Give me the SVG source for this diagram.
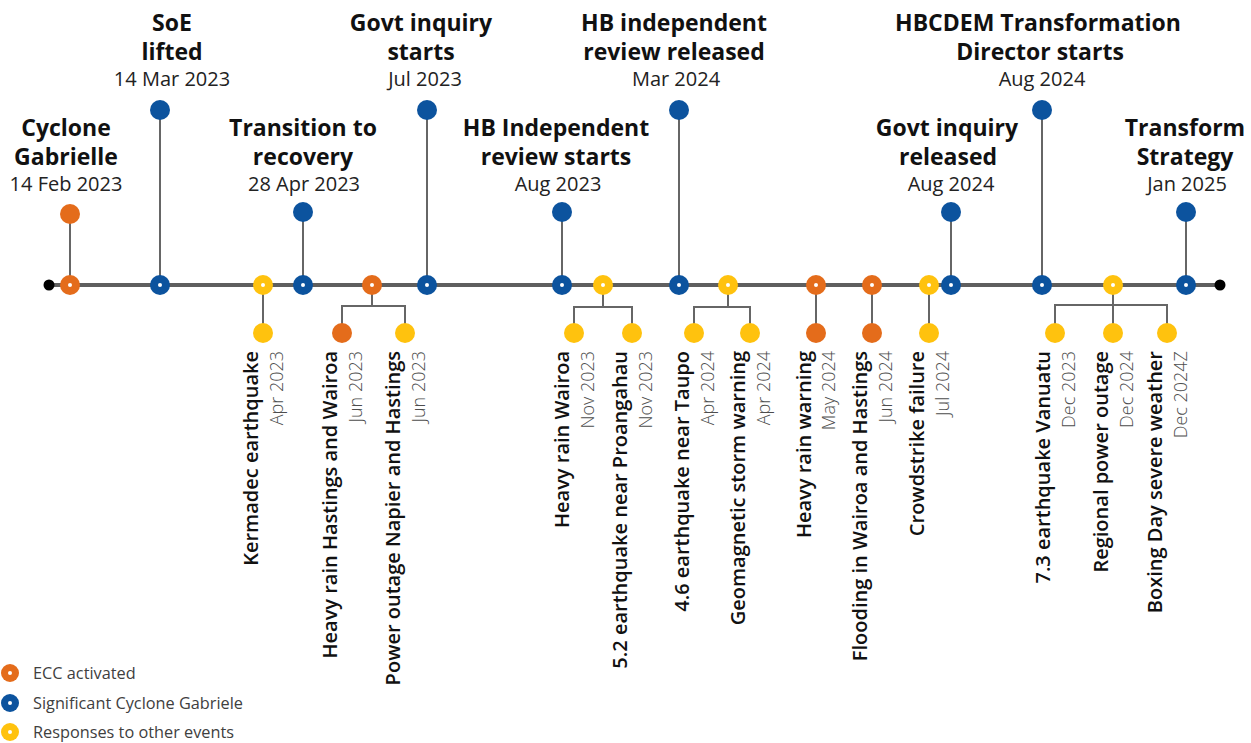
<svg xmlns="http://www.w3.org/2000/svg" width="1251" height="743" viewBox="0 0 1251 743">
<style>
.o{fill:#E46C1B}.b{fill:#0C539E}.y{fill:#FFC20E}.k{fill:#000}
.dot{fill:#fff}
.ln{stroke:#666;stroke-width:2;fill:none}
.main{stroke:#5f5f5f;stroke-width:4}
text{font-family:"Open Sans","Noto Sans",sans-serif}
.t{font-weight:700;font-size:23px;fill:#111;text-anchor:middle}
.d{font-weight:400;font-size:20px;fill:#222;text-anchor:middle}
.rt{font-weight:600;font-size:20px;fill:#111;text-anchor:end}
.rd{font-weight:300;font-size:18px;fill:#4d4d4d;text-anchor:end}
.lg{font-weight:400;font-size:16.3px;fill:#404040}
</style>
<defs>
<g id="dotc"><circle r="2" class="dot"/></g>
</defs>

<g id="timeline">
<line class="main" x1="49" y1="285" x2="1220" y2="285"/>
<circle cx="49" cy="285" r="5.5" class="k"/>
<circle cx="1220" cy="285" r="5.5" class="k"/>
</g>

<g id="connectors">
<path class="ln" d="M70 285V214M160 285V110M303 285V212M427 285V110M562 285V212M679 285V110M951 285V212M1042 285V110M1186 285V212"/>
<path class="ln" d="M263 285V333M816 285V333M872 285V333M929 285V333"/>
<path class="ln" d="M372 285V306M342 333V306H405V333"/>
<path class="ln" d="M603 285V307M574 333V307H632V333"/>
<path class="ln" d="M728 285V307M694 333V307H750V333"/>
<path class="ln" d="M1113 333V285M1055 333V305H1167V333"/>
</g>

<!-- Top milestones -->
<g id="n-cyclone">
<circle cx="70" cy="285" r="10" class="o"/><use href="#dotc" x="70" y="285"/>
<circle cx="70" cy="214" r="10" class="o"/>
<text class="t" x="66" y="136">Cyclone</text>
<text class="t" x="66" y="165">Gabrielle</text>
<text class="d" x="66" y="191">14 Feb 2023</text>
</g>
<g id="n-soe">
<circle cx="160" cy="285" r="10" class="b"/><use href="#dotc" x="160" y="285"/>
<circle cx="160" cy="110" r="10" class="b"/>
<text class="t" x="172" y="31">SoE</text>
<text class="t" x="172" y="60">lifted</text>
<text class="d" x="172" y="86">14 Mar 2023</text>
</g>
<g id="n-transition">
<circle cx="303" cy="285" r="10" class="b"/><use href="#dotc" x="303" y="285"/>
<circle cx="303" cy="212" r="10" class="b"/>
<text class="t" x="303" y="136">Transition to</text>
<text class="t" x="303" y="165">recovery</text>
<text class="d" x="304" y="191">28 Apr 2023</text>
</g>
<g id="n-govt-starts">
<circle cx="427" cy="285" r="10" class="b"/><use href="#dotc" x="427" y="285"/>
<circle cx="427" cy="110" r="10" class="b"/>
<text class="t" x="421" y="31">Govt inquiry</text>
<text class="t" x="421" y="60">starts</text>
<text class="d" x="425" y="86">Jul 2023</text>
</g>
<g id="n-hb-starts">
<circle cx="562" cy="285" r="10" class="b"/><use href="#dotc" x="562" y="285"/>
<circle cx="562" cy="212" r="10" class="b"/>
<text class="t" x="556" y="136">HB Independent</text>
<text class="t" x="556" y="165">review starts</text>
<text class="d" x="558" y="191">Aug 2023</text>
</g>
<g id="n-hb-released">
<circle cx="679" cy="285" r="10" class="b"/><use href="#dotc" x="679" y="285"/>
<circle cx="679" cy="110" r="10" class="b"/>
<text class="t" x="674" y="31">HB independent</text>
<text class="t" x="674" y="60">review released</text>
<text class="d" x="676" y="86">Mar 2024</text>
</g>
<g id="n-govt-released">
<circle cx="951" cy="285" r="10" class="b"/><use href="#dotc" x="951" y="285"/>
<circle cx="951" cy="212" r="10" class="b"/>
<text class="t" x="947" y="136">Govt inquiry</text>
<text class="t" x="948" y="165">released</text>
<text class="d" x="951" y="191">Aug 2024</text>
</g>
<g id="n-hbcdem">
<circle cx="1042" cy="285" r="10" class="b"/><use href="#dotc" x="1042" y="285"/>
<circle cx="1042" cy="110" r="10" class="b"/>
<text class="t" x="1038" y="31">HBCDEM Transformation</text>
<text class="t" x="1040" y="60">Director starts</text>
<text class="d" x="1042" y="86">Aug 2024</text>
</g>
<g id="n-transform">
<circle cx="1186" cy="285" r="10" class="b"/><use href="#dotc" x="1186" y="285"/>
<circle cx="1186" cy="212" r="10" class="b"/>
<text class="t" x="1185" y="136">Transform</text>
<text class="t" x="1185" y="165">Strategy</text>
<text class="d" x="1187" y="191">Jan 2025</text>
</g>

<!-- Bottom events -->
<g id="n-kermadec">
<circle cx="263" cy="285" r="10" class="y"/><use href="#dotc" x="263" y="285"/>
<circle cx="263" cy="333" r="10" class="y"/>
<text class="rt" transform="translate(258,351) rotate(-90)">Kermadec earthquake</text>
<text class="rd" transform="translate(283,351) rotate(-90)">Apr 2023</text>
</g>
<g id="n-jun2023">
<circle cx="372" cy="285" r="10" class="o"/><use href="#dotc" x="372" y="285"/>
<circle cx="342" cy="333" r="10" class="o"/>
<text class="rt" transform="translate(337,351) rotate(-90)">Heavy rain Hastings and Wairoa</text>
<text class="rd" transform="translate(362,351) rotate(-90)">Jun 2023</text>
<circle cx="405" cy="333" r="10" class="y"/>
<text class="rt" transform="translate(400,351) rotate(-90)">Power outage Napier and Hastings</text>
<text class="rd" transform="translate(425,351) rotate(-90)">Jun 2023</text>
</g>
<g id="n-nov2023">
<circle cx="603" cy="285" r="10" class="y"/><use href="#dotc" x="603" y="285"/>
<circle cx="574" cy="333" r="10" class="y"/>
<text class="rt" transform="translate(569,351) rotate(-90)">Heavy rain Wairoa</text>
<text class="rd" transform="translate(594,351) rotate(-90)">Nov 2023</text>
<circle cx="632" cy="333" r="10" class="y"/>
<text class="rt" transform="translate(627,351) rotate(-90)">5.2 earthquake near Proangahau</text>
<text class="rd" transform="translate(652,351) rotate(-90)">Nov 2023</text>
</g>
<g id="n-apr2024">
<circle cx="728" cy="285" r="10" class="y"/><use href="#dotc" x="728" y="285"/>
<circle cx="694" cy="333" r="10" class="y"/>
<text class="rt" transform="translate(689,351) rotate(-90)">4.6 earthquake near Taupo</text>
<text class="rd" transform="translate(714,351) rotate(-90)">Apr 2024</text>
<circle cx="750" cy="333" r="10" class="y"/>
<text class="rt" transform="translate(745,351) rotate(-90)">Geomagnetic storm warning</text>
<text class="rd" transform="translate(770,351) rotate(-90)">Apr 2024</text>
</g>
<g id="n-may2024">
<circle cx="816" cy="285" r="10" class="o"/><use href="#dotc" x="816" y="285"/>
<circle cx="816" cy="333" r="10" class="o"/>
<text class="rt" transform="translate(811,351) rotate(-90)">Heavy rain warning</text>
<text class="rd" transform="translate(835,351) rotate(-90)">May 2024</text>
</g>
<g id="n-jun2024">
<circle cx="872" cy="285" r="10" class="o"/><use href="#dotc" x="872" y="285"/>
<circle cx="872" cy="333" r="10" class="o"/>
<text class="rt" transform="translate(867,351) rotate(-90)">Flooding in Wairoa and Hastings</text>
<text class="rd" transform="translate(892,351) rotate(-90)">Jun 2024</text>
</g>
<g id="n-jul2024">
<circle cx="929" cy="285" r="10" class="y"/><use href="#dotc" x="929" y="285"/>
<circle cx="929" cy="333" r="10" class="y"/>
<text class="rt" transform="translate(924,351) rotate(-90)">Crowdstrike failure</text>
<text class="rd" transform="translate(949,351) rotate(-90)">Jul 2024</text>
</g>
<g id="n-dec2024">
<circle cx="1113" cy="285" r="10" class="y"/><use href="#dotc" x="1113" y="285"/>
<circle cx="1055" cy="333" r="10" class="y"/>
<text class="rt" transform="translate(1050,351) rotate(-90)">7.3 earthquake Vanuatu</text>
<text class="rd" transform="translate(1075,351) rotate(-90)">Dec 2023</text>
<circle cx="1113" cy="333" r="10" class="y"/>
<text class="rt" transform="translate(1108,351) rotate(-90)">Regional power outage</text>
<text class="rd" transform="translate(1133,351) rotate(-90)">Dec 2024</text>
<circle cx="1167" cy="333" r="10" class="y"/>
<text class="rt" transform="translate(1162,351) rotate(-90)">Boxing Day severe weather</text>
<text class="rd" transform="translate(1187,351) rotate(-90)">Dec 2024Z</text>
</g>

<g id="legend">
<circle cx="10" cy="673" r="9" class="o"/><use href="#dotc" x="10" y="673"/>
<text class="lg" x="33" y="679">ECC activated</text>
<circle cx="10" cy="703" r="9" class="b"/><use href="#dotc" x="10" y="703"/>
<text class="lg" x="33" y="709">Significant Cyclone Gabriele</text>
<circle cx="10" cy="732" r="9" class="y"/><use href="#dotc" x="10" y="732"/>
<text class="lg" x="33" y="738">Responses to other events</text>
</g>
</svg>
